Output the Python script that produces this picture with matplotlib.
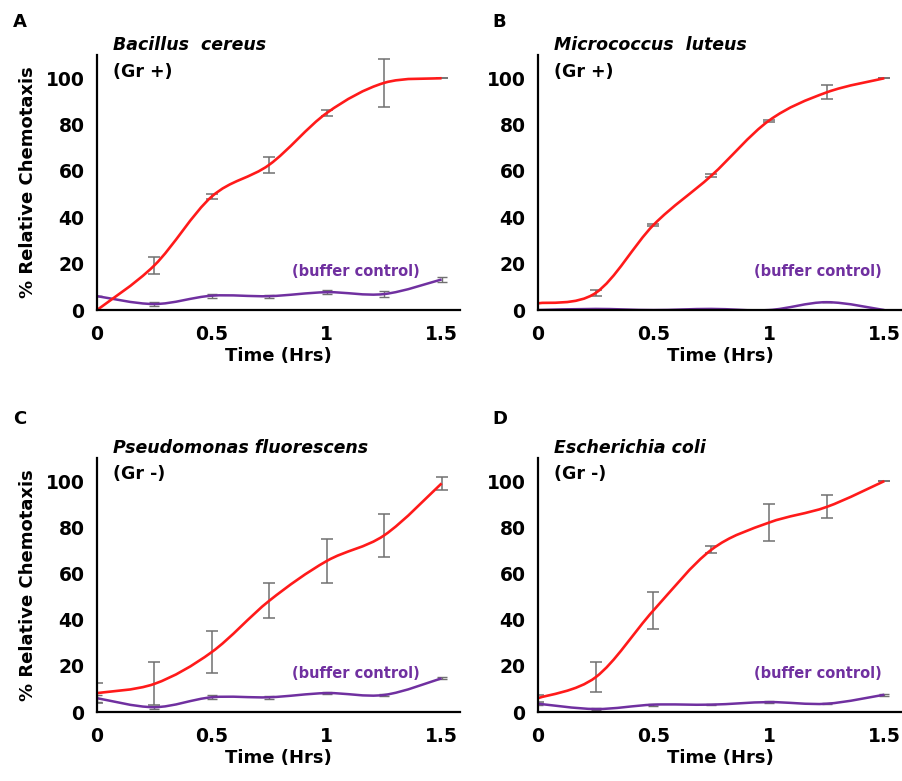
import matplotlib
matplotlib.use("Agg")
import matplotlib.pyplot as plt
import numpy as np
from matplotlib.path import Path
from matplotlib.patches import PathPatch

# time points (hours)
time_hrs = [0, 0.25, 0.5, 0.75, 1.0, 1.25, 1.5]

# panel A - Bacillus cereus
a_red = [0, 19.3, 49, 62.7, 85, 98, 100]
a_red_err = [0, 3.7, 1.0, 3.4, 1.5, 10.5, 0]
a_buf = [6, 2.6, 6.2, 6, 7.7, 6.9, 13.2]
a_buf_err = [0, 0.7, 0.8, 0.7, 0.8, 1.2, 1.2]

# panel B - Micrococcus luteus
b_red = [2.9, 7.4, 36.7, 57.9, 81.7, 93.9, 100]
b_red_err = [0, 1.2, 0.5, 0.6, 0.5, 3.0, 0]
b_buf = [0, 0.5, 0, 0.5, 0, 3.4, 0]
b_buf_err = [0, 0, 0, 0, 0, 0, 0]

# panel C - Pseudomonas fluorescens
c_red = [8.2, 12.2, 26, 48.2, 65.4, 76.5, 99]
c_red_err = [4.4, 9.3, 9.3, 7.7, 9.4, 9.3, 2.9]
c_buf = [6, 2.1, 6.4, 6.4, 8.2, 7.4, 14.6]
c_buf_err = [1.5, 0.6, 0.8, 0.6, 0.6, 0.3, 0.5]

# panel D - Escherichia coli
d_red = [6, 15.1, 44, 70.2, 82, 88.8, 100]
d_red_err = [1.5, 6.5, 7.9, 1.5, 8, 5, 0]
d_buf = [3.6, 1.3, 3.2, 3.2, 4.3, 3.6, 7.5]
d_buf_err = [0.5, 0.3, 0.4, 0.3, 0.4, 0.3, 0.5]

letters = ["A", "B", "C", "D"]
species = ["Bacillus  cereus", "Micrococcus  luteus", "Pseudomonas fluorescens", "Escherichia coli"]
gram = ["(Gr +)", "(Gr +)", "(Gr -)", "(Gr -)"]
buffer_x = [1.126, 1.21, 1.126, 1.21]

RED = "#ff1a1a"
PURPLE = "#7030a0"
GRAY = "#707070"

plt.rcParams["font.family"] = "DejaVu Sans"
plt.rcParams["font.weight"] = "bold"


def smooth_path(x, y):
    # Catmull-Rom style bezier like the spreadsheet "smoothed line"
    x = np.asarray(x, float)
    y = np.asarray(y, float)
    pts = np.column_stack([x, y])
    ext = np.vstack([pts[0], pts, pts[-1]])
    verts = [pts[0]]
    codes = [Path.MOVETO]
    for i in range(len(pts) - 1):
        p0, p1, p2, p3 = ext[i], ext[i + 1], ext[i + 2], ext[i + 3]
        c1 = p1 + (p2 - p0) / 6.0
        c2 = p2 - (p3 - p1) / 6.0
        verts += [c1, c2, p2]
        codes += [Path.CURVE4] * 3
    return Path(verts, codes)


fig = plt.figure(figsize=(9.03, 7.81), dpi=100)

boxes = [
    [0.1074, 0.603, 0.402, 0.3265],
    [0.5958, 0.603, 0.404, 0.3265],
    [0.1074, 0.0883, 0.402, 0.3253],
    [0.5958, 0.0883, 0.404, 0.3253],
]
reds = [a_red, b_red, c_red, d_red]
red_errs = [a_red_err, b_red_err, c_red_err, d_red_err]
bufs = [a_buf, b_buf, c_buf, d_buf]
buf_errs = [a_buf_err, b_buf_err, c_buf_err, d_buf_err]

for i in range(4):
    ax = fig.add_axes(boxes[i])
    ax.errorbar(time_hrs, bufs[i], yerr=buf_errs[i], fmt="none", ecolor=GRAY,
                elinewidth=1, capsize=3.5, capthick=1, zorder=2)
    ax.errorbar(time_hrs, reds[i], yerr=red_errs[i], fmt="none", ecolor=GRAY,
                elinewidth=1.1, capsize=4, capthick=1.1, zorder=2)
    ax.add_patch(PathPatch(smooth_path(time_hrs, bufs[i]), fill=False,
                           edgecolor=PURPLE, lw=1.8, zorder=3))
    ax.add_patch(PathPatch(smooth_path(time_hrs, reds[i]), fill=False,
                           edgecolor=RED, lw=1.9, zorder=4))

    ax.set_xlim(0, 1.58)
    ax.set_ylim(0, 110)
    ax.set_xticks([0, 0.5, 1, 1.5])
    ax.set_xticklabels(["0", "0.5", "1", "1.5"])
    ax.set_yticks([0, 20, 40, 60, 80, 100])
    ax.tick_params(length=0, labelsize=13.5)
    ax.tick_params(axis="x", pad=11)
    ax.tick_params(axis="y", pad=9)
    for s in ["top", "right"]:
        ax.spines[s].set_visible(False)
    for s in ["left", "bottom"]:
        ax.spines[s].set_linewidth(1.6)
        ax.spines[s].set_zorder(5)

    ax.set_xlabel("Time (Hrs)", fontsize=13, fontweight="bold", labelpad=2)
    if i in (0, 2):
        ax.set_ylabel("% Relative Chemotaxis", fontsize=13, fontweight="bold", labelpad=6)

    ax.text(0.044, 1.04, species[i], transform=ax.transAxes, fontsize=12.5,
            fontweight="bold", style="italic", va="center", ha="left")
    ax.text(0.044, 0.935, gram[i], transform=ax.transAxes, fontsize=12.5,
            fontweight="bold", va="center", ha="left")
    ax.text(buffer_x[i], 16.8, "(buffer control)", color=PURPLE, fontsize=10.5,
            fontweight="bold", ha="center", va="center")

letter_pos = [(0.014, 0.972), (0.545, 0.972), (0.014, 0.464), (0.545, 0.464)]
for (lx, ly), letter in zip(letter_pos, letters):
    fig.text(lx, ly, letter, fontsize=13, fontweight="bold", va="center", ha="left")

fig.savefig("out.png", dpi=100)
